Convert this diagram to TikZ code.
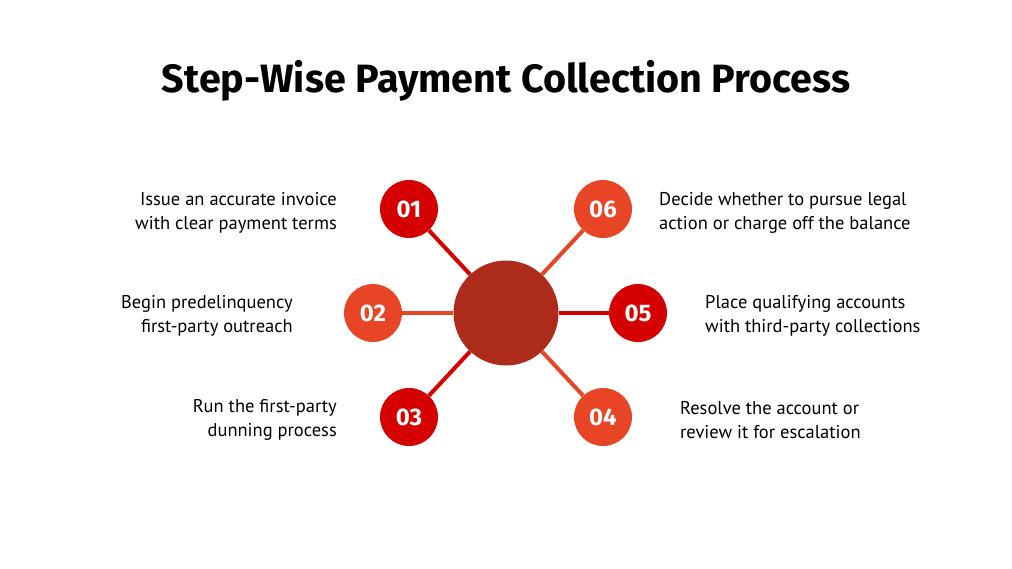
\documentclass[tikz,border=0pt]{standalone}
\usepackage{fontspec}
\setmainfont{PT Sans}
\newfontfamily\titlefont{Fira Sans}
\definecolor{darkred}{HTML}{D50000}
\definecolor{orangered}{HTML}{E84526}
\definecolor{hubred}{HTML}{AD2B1A}
\begin{document}
\begin{tikzpicture}[x=1pt,y=-1pt]
\tikzstyle{every node}+=[inner sep=0pt]
\tikzstyle{step dark}=[circle,fill=darkred,minimum size=58pt,text=white,font=\titlefont\bfseries\fontsize{24}{24}\selectfont]
\tikzstyle{step light}=[circle,fill=orangered,minimum size=58pt,text=white,font=\titlefont\bfseries\fontsize{24}{24}\selectfont]
\tikzstyle{spoke}=[line width=4pt]
\tikzstyle{label left}=[align=right,font=\fontsize{18.5}{23.5}\selectfont]
\tikzstyle{label right}=[align=left,font=\fontsize{18.5}{23.5}\selectfont]
\useasboundingbox (0,0) rectangle (1012,569);
\fill [white] (0,0) rectangle (1012,569);
\node (title) at (506,81) {\titlefont\bfseries\fontsize{39.5}{42}\selectfont Step-Wise Payment Collection Process};
% hub and steps
\node [circle,fill=hubred,minimum size=105pt] (hub) at (506,313) {};
\node [step dark] (s1) at (409,209) {01};
\node [step light] (s2) at (373,313) {02};
\node [step dark] (s3) at (409,417) {03};
\node [step light] (s4) at (603,417) {04};
\node [step dark] (s5) at (638,313) {05};
\node [step light] (s6) at (603,209) {06};
% spokes
\draw [spoke,darkred] (hub) -- (s1);
\draw [spoke,orangered] (hub) -- (s2);
\draw [spoke,darkred] (hub) -- (s3);
\draw [spoke,orangered] (hub) -- (s4);
\draw [spoke,darkred] (hub) -- (s5);
\draw [spoke,orangered] (hub) -- (s6);
% texts
\node [label left,anchor=east] (t1) at (337,213) {Issue an accurate invoice\\with clear payment terms};
\node [label left,anchor=east] (t2) at (293,316) {Begin predelinquency\\first-party outreach};
\node [label left,anchor=east] (t3) at (337,420) {Run the first-party\\dunning process};
\node [label right,anchor=west] (t4) at (680,420) {Resolve the account or\\review it for escalation};
\node [label right,anchor=west] (t5) at (705,316) {Place qualifying accounts\\with third-party collections};
\node [label right,anchor=west] (t6) at (659,213) {Decide whether to pursue legal\\action or charge off the balance};
\end{tikzpicture}
\end{document}
